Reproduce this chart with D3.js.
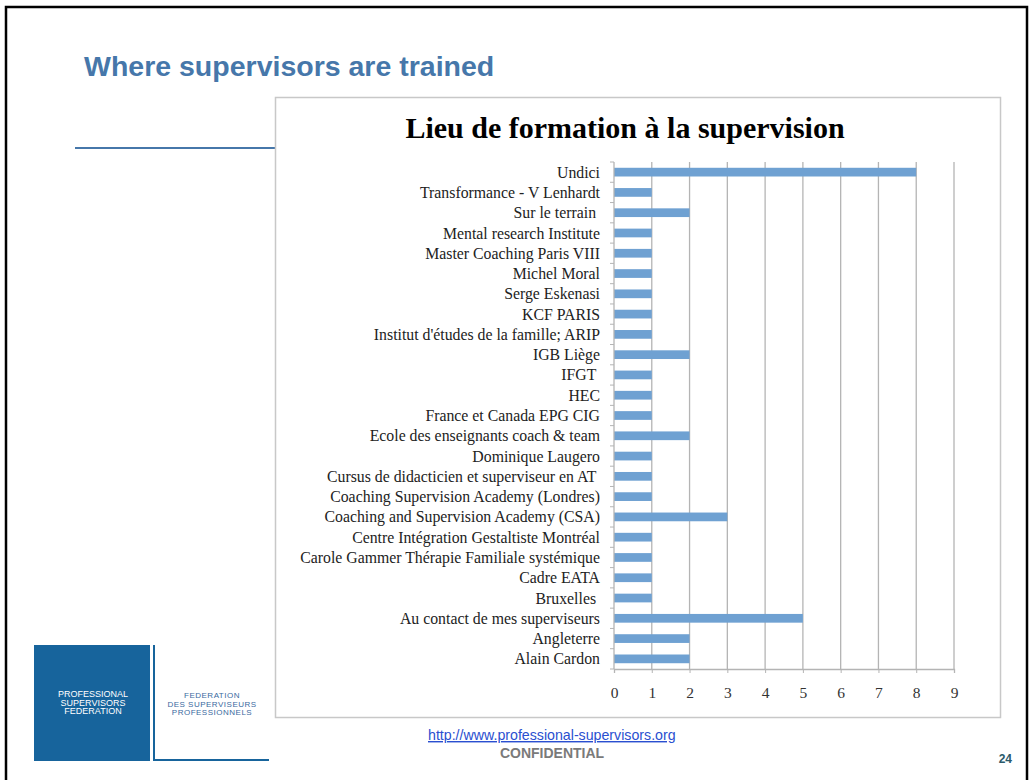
<!DOCTYPE html>
<html>
<head>
<meta charset="utf-8">
<script src="https://cdn.jsdelivr.net/npm/d3@7"></script>
<style>
	body { margin: 0; background: #fff; }
	svg { display: block; }
</style>
</head>
<body>
<div id="wrapper"></div>
<script>
// categories listed top to bottom as in the chart
const categories = [
	"Undici",
	"Transformance - V Lenhardt",
	"Sur le terrain ",
	"Mental research Institute",
	"Master Coaching Paris VIII",
	"Michel Moral",
	"Serge Eskenasi",
	"KCF PARIS",
	"Institut d'études de la famille; ARIP",
	"IGB Liège",
	"IFGT ",
	"HEC",
	"France et Canada EPG CIG",
	"Ecole des enseignants coach & team",
	"Dominique Laugero",
	"Cursus de didacticien et superviseur en AT ",
	"Coaching Supervision Academy (Londres)",
	"Coaching and Supervision Academy (CSA)",
	"Centre Intégration Gestaltiste Montréal",
	"Carole Gammer Thérapie Familiale systémique",
	"Cadre EATA",
	"Bruxelles ",
	"Au contact de mes superviseurs",
	"Angleterre",
	"Alain Cardon"
];
const counts = [8, 1, 2, 1, 1, 1, 1, 1, 1, 2, 1, 1, 1, 2, 1, 1, 1, 3, 1, 1, 1, 1, 5, 2, 2];
const xTicks = [0, 1, 2, 3, 4, 5, 6, 7, 8, 9];

const slideTitle = "Where supervisors are trained";
const chartTitle = "Lieu de formation à la supervision";
const footerUrl = "http://www.professional-supervisors.org";
const footerNote = "CONFIDENTIAL";
const pageNumber = "24";
const logoLeft = ["PROFESSIONAL", "SUPERVISORS", "FEDERATION"];
const logoRight = ["FEDERATION", "DES SUPERVISEURS", "PROFESSIONNELS"];

const data = categories.map((c, i) => ({name: c, value: counts[i]}));

function drawSlide() {
	const width = 1032, height = 780;
	const blue = "#4677aa";

	const svg = d3.select("#wrapper").append("svg")
		.attr("width", width)
		.attr("height", height);

	svg.append("rect").attr("width", width).attr("height", height).attr("fill", "#fff");

	// slide frame
	svg.append("rect")
		.attr("x", 6).attr("y", 7)
		.attr("width", 1021).attr("height", 800)
		.attr("fill", "none")
		.attr("stroke", "#000")
		.attr("stroke-width", 2.5);

	svg.append("text")
		.attr("x", 84).attr("y", 76)
		.attr("font-family", "Liberation Sans, Arial, sans-serif")
		.attr("font-weight", "bold")
		.attr("font-size", 28.5)
		.attr("fill", blue)
		.text(slideTitle);

	svg.append("line")
		.attr("x1", 75).attr("x2", 277)
		.attr("y1", 148).attr("y2", 148)
		.attr("stroke", blue)
		.attr("stroke-width", 2);

	// chart box
	svg.append("rect")
		.attr("x", 275.5).attr("y", 97.5)
		.attr("width", 725).attr("height", 620)
		.attr("fill", "#fff")
		.attr("stroke", "#c8c8c8")
		.attr("stroke-width", 1.5);

	svg.append("text")
		.attr("x", 625).attr("y", 138)
		.attr("text-anchor", "middle")
		.attr("font-family", "Liberation Serif, serif")
		.attr("font-weight", "bold")
		.attr("font-size", 30)
		.attr("fill", "#000")
		.text(chartTitle);

	const plot = {left: 614, right: 954, top: 162, bottom: 669};

	const xScale = d3.scaleLinear()
		.domain([0, 9])
		.range([plot.left, plot.right]);

	const yScale = d3.scaleBand()
		.domain(categories)
		.range([plot.top, plot.bottom])
		.paddingInner(0.57)
		.paddingOuter(0.285);

	const bounds = svg.append("g");

	// vertical gridlines
	bounds.append("g")
		.selectAll("line")
		.data(xTicks.filter(d => d > 0))
		.join("line")
		.attr("x1", d => xScale(d)).attr("x2", d => xScale(d))
		.attr("y1", plot.top).attr("y2", plot.bottom)
		.attr("stroke", "#b4b4b4")
		.attr("stroke-width", 1.3);

	// bars
	bounds.append("g")
		.selectAll("rect")
		.data(data)
		.join("rect")
		.attr("x", xScale(0))
		.attr("y", d => yScale(d.name))
		.attr("width", d => xScale(d.value) - xScale(0))
		.attr("height", yScale.bandwidth())
		.attr("fill", "#6fa1d2");

	// x axis
	const xAxisGenerator = d3.axisBottom(xScale)
		.tickValues(xTicks)
		.tickSize(4)
		.tickPadding(14);

	const xAxis = bounds.append("g")
		.attr("transform", `translate(0, ${plot.bottom})`)
		.call(xAxisGenerator);
	xAxis.select(".domain").attr("stroke", "#b4b4b4").attr("stroke-width", 1.3);
	xAxis.selectAll(".tick line").attr("stroke", "#b4b4b4");
	xAxis.selectAll(".tick text")
		.attr("font-family", "Liberation Serif, serif")
		.attr("font-size", 15.5)
		.attr("fill", "#333");

	// y axis line and ticks on band boundaries
	const step = yScale.step();
	const boundaries = d3.range(categories.length + 1).map(i => plot.top + i * step);
	bounds.append("line")
		.attr("x1", plot.left).attr("x2", plot.left)
		.attr("y1", plot.top).attr("y2", plot.bottom)
		.attr("stroke", "#b4b4b4")
		.attr("stroke-width", 1.3);
	bounds.append("g")
		.selectAll("line")
		.data(boundaries)
		.join("line")
		.attr("x1", plot.left - 4).attr("x2", plot.left)
		.attr("y1", d => d).attr("y2", d => d)
		.attr("stroke", "#b4b4b4");

	// category labels
	bounds.append("g")
		.selectAll("text")
		.data(categories)
		.join("text")
		.attr("x", 600)
		.attr("y", d => yScale(d) + yScale.bandwidth() / 2)
		.attr("dy", "0.35em")
		.attr("text-anchor", "end")
		.attr("font-family", "Liberation Serif, serif")
		.attr("font-size", 15.8)
		.attr("fill", "#222")
		.style("white-space", "pre")
		.text(d => d);

	// logo block
	svg.append("rect")
		.attr("x", 34).attr("y", 645)
		.attr("width", 116).attr("height", 116)
		.attr("fill", "#17649c");
	svg.append("line")
		.attr("x1", 154).attr("x2", 154)
		.attr("y1", 645).attr("y2", 761)
		.attr("stroke", "#17649c").attr("stroke-width", 2);
	svg.append("line")
		.attr("x1", 153).attr("x2", 269)
		.attr("y1", 760).attr("y2", 760)
		.attr("stroke", "#17649c").attr("stroke-width", 2);

	svg.append("g")
		.selectAll("text")
		.data(logoLeft)
		.join("text")
		.attr("x", 93)
		.attr("y", (d, i) => 697 + i * 8.5)
		.attr("text-anchor", "middle")
		.attr("font-family", "Liberation Sans, Arial, sans-serif")
		.attr("font-size", 9)
		.attr("fill", "#fff")
		.text(d => d);

	svg.append("g")
		.selectAll("text")
		.data(logoRight)
		.join("text")
		.attr("x", 212)
		.attr("y", (d, i) => 698 + i * 8.5)
		.attr("text-anchor", "middle")
		.attr("font-family", "Liberation Sans, Arial, sans-serif")
		.attr("font-size", 8)
		.attr("letter-spacing", 0.5)
		.attr("fill", "#3a6aa0")
		.text(d => d);

	// footer
	svg.append("text")
		.attr("x", 428).attr("y", 740)
		.attr("font-family", "Liberation Sans, Arial, sans-serif")
		.attr("font-size", 14.2)
		.attr("fill", "#2a4fd0")
		.attr("text-decoration", "underline")
		.text(footerUrl);

	svg.append("text")
		.attr("x", 552).attr("y", 758)
		.attr("text-anchor", "middle")
		.attr("font-family", "Liberation Sans, Arial, sans-serif")
		.attr("font-weight", "bold")
		.attr("font-size", 14)
		.attr("fill", "#7a7a7a")
		.text(footerNote);

	svg.append("text")
		.attr("x", 1012).attr("y", 763)
		.attr("text-anchor", "end")
		.attr("font-family", "Liberation Sans, Arial, sans-serif")
		.attr("font-weight", "bold")
		.attr("font-size", 12)
		.attr("fill", "#2b5a6a")
		.text(pageNumber);
}

drawSlide();
</script>
</body>
</html>
